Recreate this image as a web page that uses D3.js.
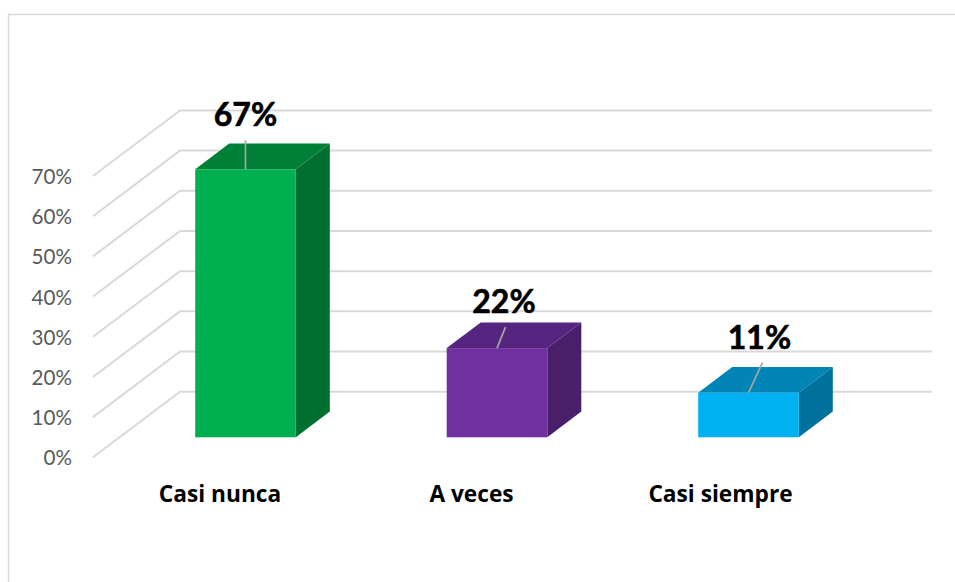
<!DOCTYPE html>
<html><head><meta charset="utf-8">
<script src="https://cdn.jsdelivr.net/npm/d3@7"></script>
<style>html,body{margin:0;background:#fff}svg{display:block}text{font-family:Lato,sans-serif}</style>
</head><body><div id="c"></div>
<script>
const categories = ["Casi nunca","A veces","Casi siempre"];
const values = [66.7,22.2,11.1];
const valueLabels = ["67%","22%","11%"];
const frontColors = ["#00b050","#7030a0","#00b0f0"];
const topColors = ["#008037","#552580","#0085b5"];
const sideColors = ["#006f2f","#481f68","#00719c"];
const ticks = [0,10,20,30,40,50,60,70];

const W=955,H=582;
const svg=d3.select("#c").append("svg").attr("width",W).attr("height",H);
const y=d3.scaleLinear().domain([0,70]).range([457.3,176]);
const x=d3.scaleBand().domain(categories).range([119.75,874.25]).paddingInner(0.6).paddingOuter(0.3);
const wallDx=87,wallDy=65.6,wallRight=932,barDx=34,barDy=25.7,barBase=437.3,unit=(y(0)-y(10))/10;

svg.append("path").attr("d",`M8.5,${H}V14.5H${W}`).attr("fill","none").attr("stroke","#d9d9d9").attr("stroke-width",1.5);

svg.selectAll("path.grid").data(ticks).join("path").attr("class","grid")
 .attr("d",d=>`M${93},${y(d)}L${93+wallDx},${y(d)-wallDy}H${wallRight}`)
 .attr("fill","none").attr("stroke","#d9d9d9").attr("stroke-width",2);

svg.selectAll("text.tick").data(ticks).join("text").attr("class","tick")
 .attr("x",72).attr("y",d=>y(d)+8).attr("text-anchor","end")
 .attr("font-size",20.6).attr("fill","#595959").text(d=>d+"%");

const bars=svg.selectAll("g.bar").data(categories).join("g").attr("class","bar");
bars.each(function(c,i){
  const g=d3.select(this),l=x(c),w=x.bandwidth(),r=l+w,t=barBase-values[i]*unit;
  g.append("path").attr("d",`M${r},${t}l${barDx},${-barDy}V${barBase-barDy}L${r},${barBase}Z`).attr("fill",sideColors[i]);
  g.append("path").attr("d",`M${l},${t}l${barDx},${-barDy}H${r+barDx}L${r},${t}Z`).attr("fill",topColors[i]);
  g.append("rect").attr("x",l).attr("y",t).attr("width",w).attr("height",barBase-t).attr("fill",frontColors[i]);
});

const labelDx=[0,8.5,14], leaderLen=[29,21,30], labelGap=[14.5,14,14], labelExtra=[0,-1.5,-3], catShift=[-25.5,-25.5,-28];
svg.selectAll("line.leader").data(categories).join("line").attr("class","leader")
 .attr("x1",c=>x(c)+x.bandwidth()/2)
 .attr("y1",(c,i)=>barBase-values[i]*unit)
 .attr("x2",(c,i)=>x(c)+x.bandwidth()/2+labelDx[i])
 .attr("y2",(c,i)=>barBase-values[i]*unit-leaderLen[i])
 .attr("stroke","#a6a6a6").attr("stroke-width",1.7);

svg.selectAll("text.val").data(categories).join("text").attr("class","val")
 .attr("x",(c,i)=>x(c)+x.bandwidth()/2+labelDx[i]+labelExtra[i])
 .attr("y",(c,i)=>barBase-values[i]*unit-leaderLen[i]-labelGap[i])
 .attr("text-anchor","middle").attr("font-size",32).attr("font-weight",700).attr("fill","#000")
 .attr("stroke","#000").attr("stroke-width",0.6)
 .text((c,i)=>valueLabels[i]);

svg.selectAll("text.cat").data(categories).join("text").attr("class","cat")
 .attr("x",(c,i)=>x(c)+x.bandwidth()/2+catShift[i]).attr("y",501.5)
 .attr("text-anchor","middle").attr("font-size",22.7).attr("font-weight",700).attr("fill","#000")
 .style("font-family","'Open Sans',sans-serif")
 .text(c=>c);
</script></body></html>
